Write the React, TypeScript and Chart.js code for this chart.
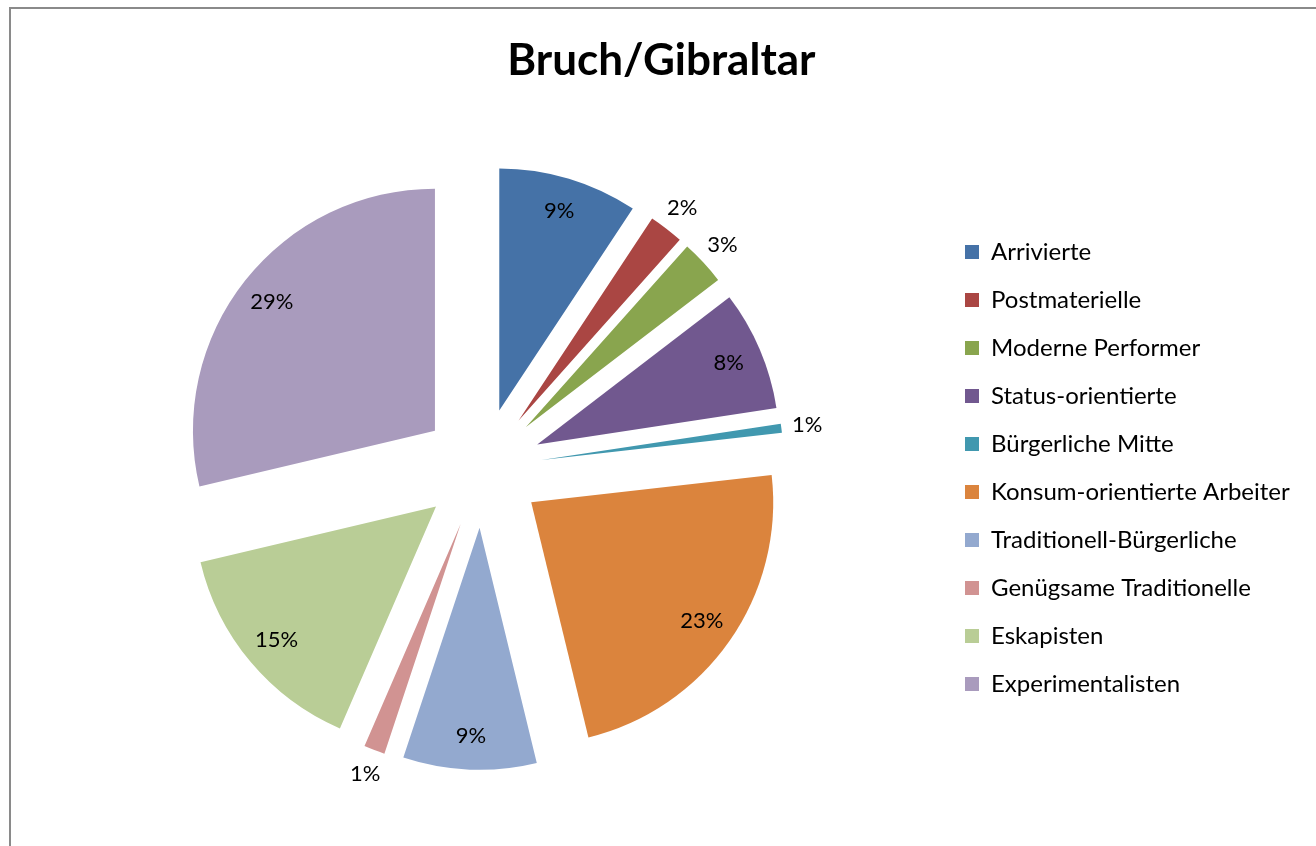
import React, { useEffect, useRef } from 'react';
import { Chart, registerables } from 'chart.js';

Chart.register(...registerables);

const TITLE = 'Bruch/Gibraltar';
const categories = [
  'Arrivierte',
  'Postmaterielle',
  'Moderne Performer',
  'Status-orientierte',
  'Bürgerliche Mitte',
  'Konsum-orientierte Arbeiter',
  'Traditionell-Bürgerliche',
  'Genügsame Traditionelle',
  'Eskapisten',
  'Experimentalisten',
];
const shares = [9.3, 2.3, 3.0, 8.0, 0.6, 23.0, 8.9, 1.4, 14.8, 28.7];
const colors = [
  '#4572A7',
  '#AA4643',
  '#89A54E',
  '#71588F',
  '#4198AF',
  '#DB843D',
  '#93A9CF',
  '#D19392',
  '#B9CD96',
  '#A99BBD',
];

const W = 1316;
const H = 846;
const FONT = 'Lato';
const RADIUS = 242;
const EXPLODE = 60; // px shift of each slice along its mid-angle
const TARGET_AREA_RIGHT = 941;

// explode slices: move each arc's centre outwards along its bisector
const explode = {
  id: 'explode',
  afterDatasetUpdate(chart: any, args: any) {
    args.meta.data.forEach((arc: any) => {
      const mid = (arc.startAngle + arc.endAngle) / 2;
      arc.x = arc.x + Math.cos(mid) * EXPLODE;
      arc.y = arc.y + Math.sin(mid) * EXPLODE;
    });
  },
};

const pctLabels = {
  id: 'pctLabels',
  afterDatasetsDraw(chart: any) {
    const ctx = chart.ctx;
    const meta = chart.getDatasetMeta(0);
    const data = chart.data.datasets[0].data as number[];
    const total = data.reduce((a, b) => a + b, 0);
    ctx.save();
    ctx.font = `22px ${FONT}`;
    ctx.fillStyle = '#000';
    ctx.textAlign = 'center';
    ctx.textBaseline = 'middle';
    meta.data.forEach((arc: any, i: number) => {
      const pct = (data[i] / total) * 100;
      const mid = (arc.startAngle + arc.endAngle) / 2;
      const dist = pct >= 5 ? arc.outerRadius * 0.86 : arc.outerRadius + 26;
      const tx = arc.x + Math.cos(mid) * dist;
      const ty = arc.y + Math.sin(mid) * dist;
      ctx.fillText(`${Math.round(pct)}%`, tx, ty);
    });
    ctx.restore();
  },
};

export default function App() {
  const ref = useRef<HTMLCanvasElement>(null);

  useEffect(() => {
    const canvas = ref.current;
    if (!canvas) return;
    const chart = new Chart(canvas, {
      type: 'pie',
      data: {
        labels: categories,
        datasets: [
          {
            data: shares,
            backgroundColor: colors,
            borderWidth: 0,
            borderColor: 'rgba(0,0,0,0)',
            offset: 0,
            hoverOffset: 0,
          } as any,
        ],
      },
      options: {
        responsive: false,
        animation: false,
        events: [],
        radius: RADIUS,
        layout: { padding: { left: 23, right: 15, top: 0, bottom: 10 } },
        plugins: {
          tooltip: { enabled: false },
          title: {
            display: true,
            text: TITLE,
            color: '#000',
            font: { family: FONT, size: 44, weight: 'bold', lineHeight: 1.2 },
            padding: { top: 34, bottom: 13 },
          },
          legend: {
            position: 'right',
            align: 'center',
            fullSize: false,
            labels: {
              color: '#000',
              font: { family: FONT, size: 24 },
              boxWidth: 14,
              boxHeight: 14,
              padding: 24,
            },
          },
        },
      } as any,
      plugins: [explode, pctLabels],
    });
    const diff = chart.chartArea.right - TARGET_AREA_RIGHT;
    if (Math.abs(diff) > 0.5) {
      (chart.options as any).layout.padding.right += diff;
      chart.update();
    }
    return () => chart.destroy();
  }, []);

  return (
    <div style={{ position: 'fixed', left: 0, top: 0, width: W, height: H, background: '#fff' }}>
      <canvas ref={ref} width={W} height={H} style={{ display: 'block', width: W, height: H }} />
      <div
        style={{
          position: 'fixed',
          left: 9,
          top: 7,
          width: 1400,
          height: 1000,
          border: '2px solid #8a8a8a',
          pointerEvents: 'none',
        }}
      />
    </div>
  );
}
